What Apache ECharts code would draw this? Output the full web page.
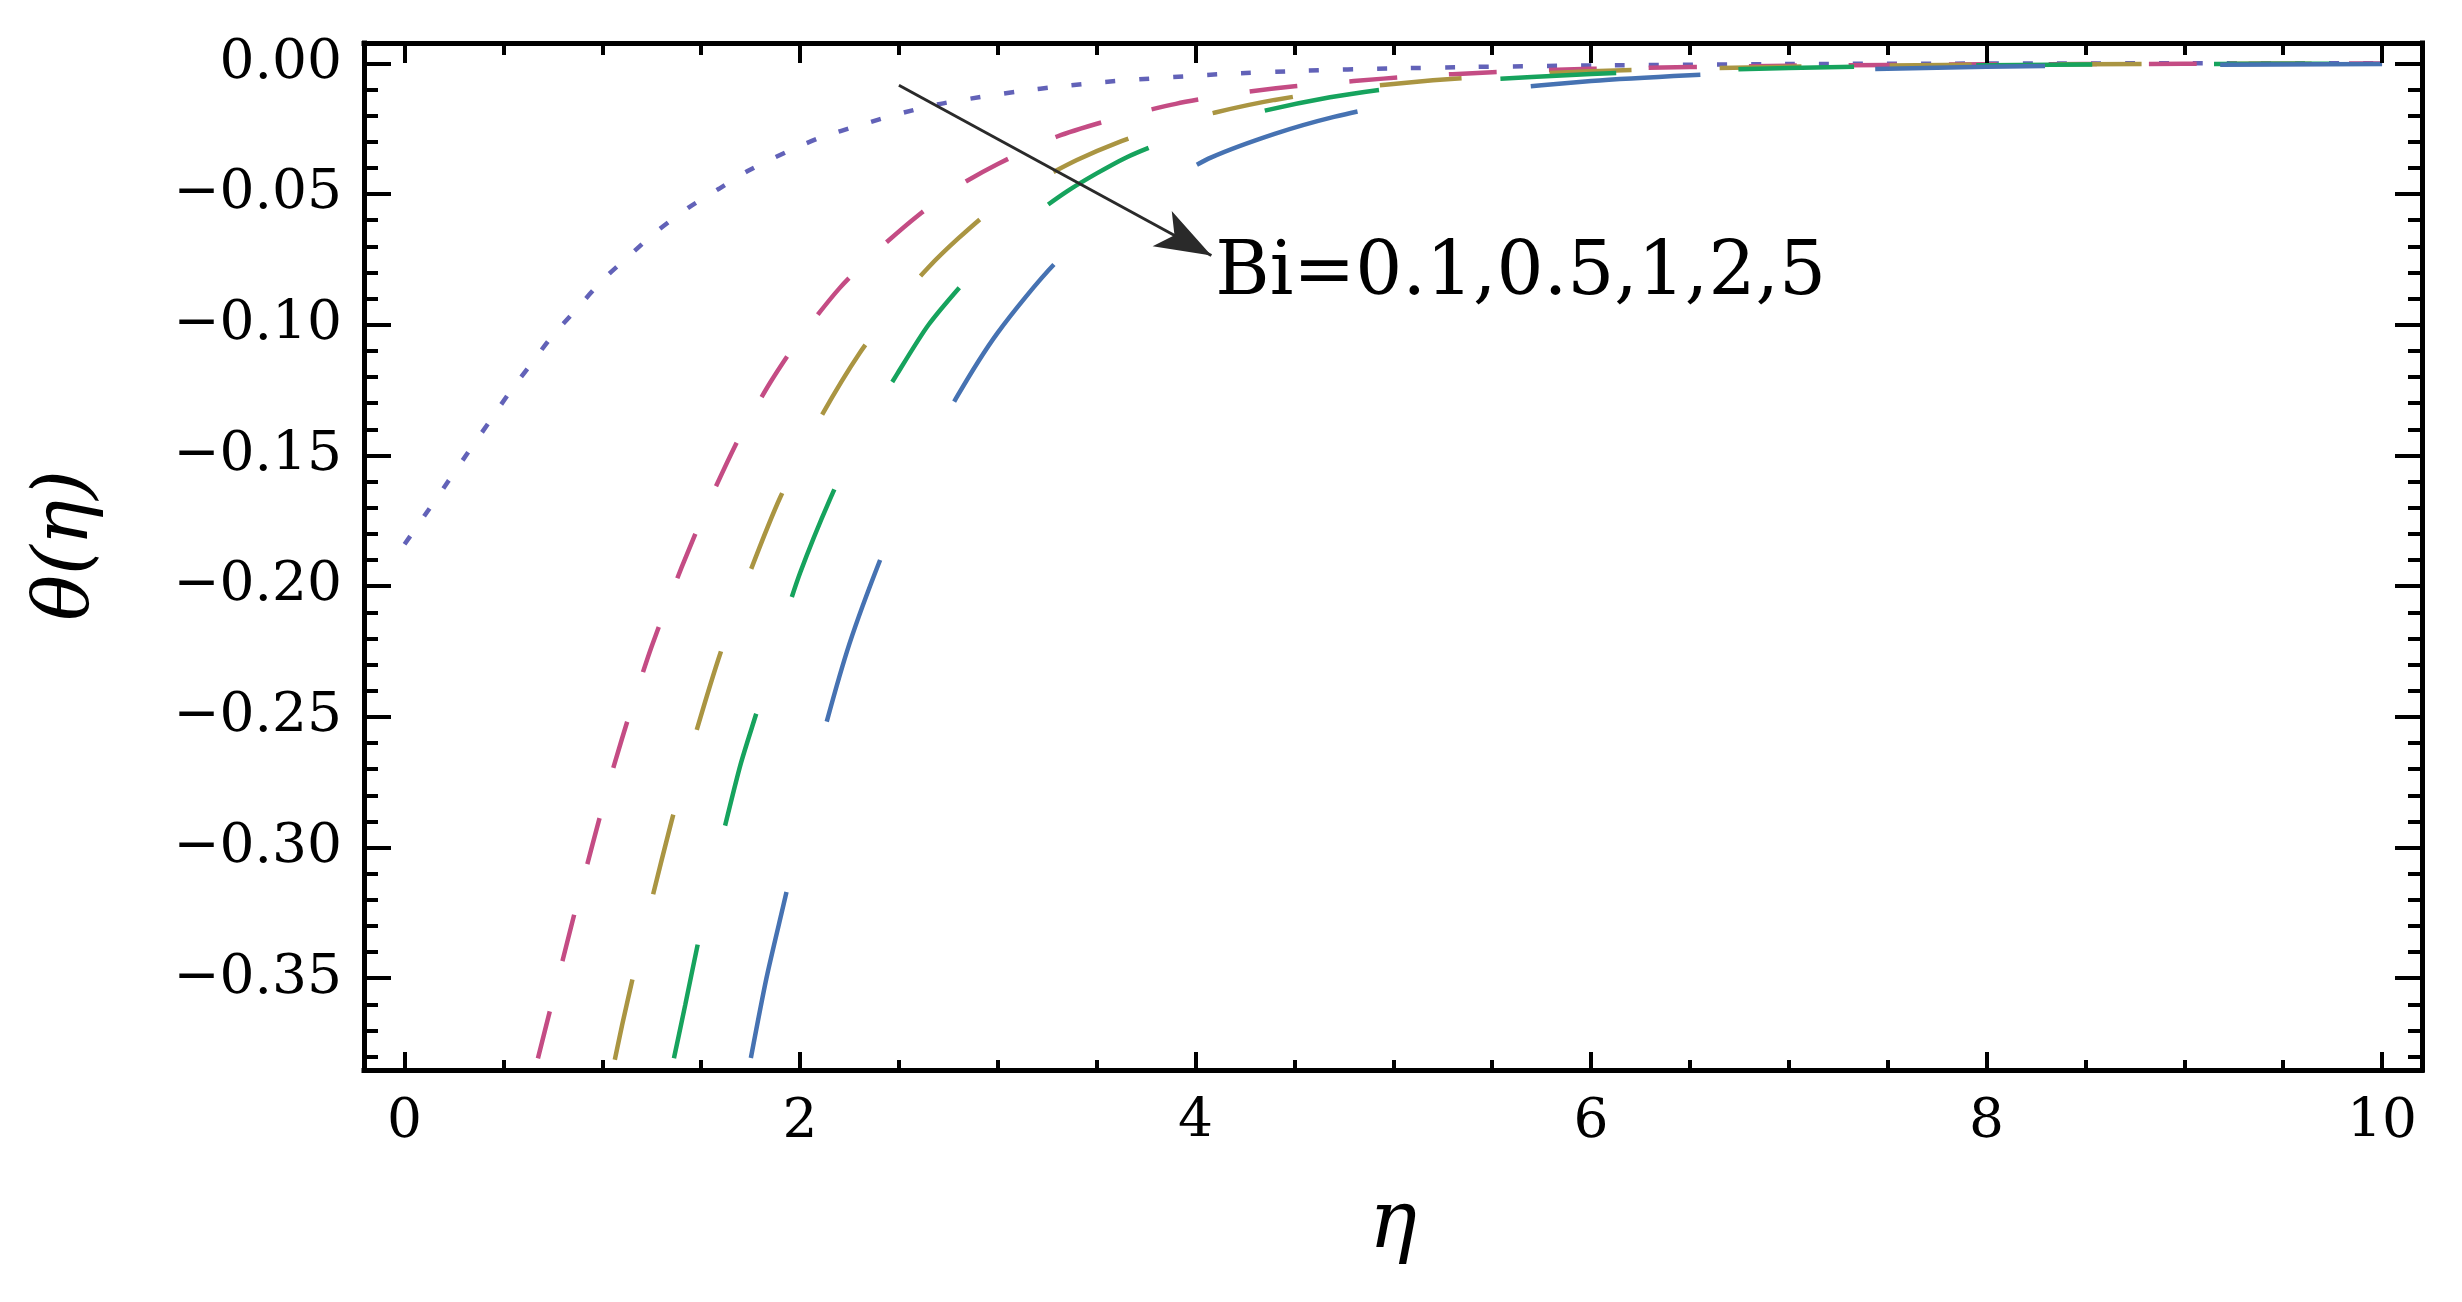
<!DOCTYPE html>
<html>
<head>
<meta charset="utf-8">
<title>theta(eta) for several Bi</title>
<script src="https://cdn.jsdelivr.net/npm/echarts@6/dist/echarts.min.js"></script>
<style>
  html, body { margin: 0; padding: 0; background: #fff; }
  #chart { width: 2462px; height: 1302px; }
</style>
</head>
<body>
<div id="chart"></div>
<script>
// values (eta, theta), one pair of arrays per Bi
const etaBi01 = [0, 0.12, 0.22, 0.32, 0.43, 0.53, 0.64, 0.74, 0.87, 1.0, 1.13, 1.28, 1.44, 1.59, 1.74, 1.93, 2.1, 2.31, 2.5, 2.71, 2.92, 3.11, 3.32, 3.53, 3.74, 3.94, 4.14, 4.56, 4.98, 5.39, 6.03, 7, 8, 9, 10];
const thetaBi01 = [-0.184, -0.171, -0.16, -0.149, -0.137, -0.126, -0.115, -0.105, -0.094, -0.083, -0.074, -0.064, -0.055, -0.048, -0.041, -0.034, -0.0285, -0.0235, -0.0193, -0.0155, -0.0128, -0.0107, -0.0088, -0.0072, -0.006, -0.005, -0.0041, -0.0028, -0.002, -0.0014, -0.0008, -0.0003, -0.0001, 0, 0];

const etaBi05 = [0.66, 0.75, 0.85, 0.95, 1.05, 1.15, 1.25, 1.4, 1.55, 1.7, 1.85, 2.0, 2.2, 2.4, 2.6, 2.8, 3.0, 3.3, 3.6, 3.9, 4.2, 4.5, 4.8, 5.1, 5.5, 6, 7, 8, 9, 10];
const thetaBi05 = [-0.385, -0.358, -0.328, -0.299, -0.271, -0.246, -0.223, -0.193, -0.166, -0.142, -0.122, -0.105, -0.086, -0.071, -0.058, -0.047, -0.0385, -0.028, -0.021, -0.0155, -0.0115, -0.0088, -0.0068, -0.005, -0.0034, -0.0021, -0.0009, -0.0004, -0.0002, -0.0001];

const etaBi1 = [1.05, 1.1, 1.16, 1.25, 1.35, 1.47, 1.6, 1.75, 1.9, 2.1, 2.3, 2.5, 2.65, 2.8, 2.97, 3.2, 3.4, 3.6, 3.87, 4.1, 4.4, 4.8, 5.2, 5.6, 6, 7, 8, 9, 10];
const thetaBi1 = [-0.386, -0.368, -0.348, -0.32, -0.29, -0.257, -0.225, -0.194, -0.166, -0.136, -0.111, -0.091, -0.078, -0.067, -0.056, -0.045, -0.037, -0.0305, -0.0235, -0.0188, -0.014, -0.0095, -0.0065, -0.0045, -0.003, -0.0013, -0.0005, -0.0002, -0.0001];

const etaBi2 = [1.35, 1.42, 1.48, 1.55, 1.61, 1.7, 1.79, 1.9, 2.0, 2.15, 2.3, 2.49, 2.65, 2.85, 3.05, 3.35, 3.65, 3.95, 4.3, 4.68, 5.0, 5.4, 6, 7, 8, 9, 10];
const thetaBi2 = [-0.385, -0.36, -0.338, -0.314, -0.295, -0.268, -0.246, -0.218, -0.195, -0.167, -0.143, -0.119, -0.1, -0.082, -0.066, -0.049, -0.036, -0.027, -0.019, -0.013, -0.0095, -0.0066, -0.0041, -0.0018, -0.0007, -0.0003, -0.0001];

const etaBi5 = [1.74, 1.83, 1.93, 2.02, 2.12, 2.25, 2.41, 2.6, 2.79, 3.0, 3.29, 3.6, 3.85, 4.08, 4.4, 4.7, 5.03, 5.5, 6, 6.5, 7, 8, 9, 10];
const thetaBi5 = [-0.385, -0.35, -0.3175, -0.287, -0.256, -0.222, -0.189, -0.155, -0.128, -0.103, -0.0765, -0.057, -0.0455, -0.036, -0.027, -0.0205, -0.0152, -0.0103, -0.0068, -0.0046, -0.003, -0.0013, -0.0006, -0.0003];

const seriesNames = ['Bi=0.1', 'Bi=0.5', 'Bi=1', 'Bi=2', 'Bi=5'];

// ticks
const xMajorTicks = [0, 2, 4, 6, 8, 10];
const xMinorTicks = [0.5, 1, 1.5, 2.5, 3, 3.5, 4.5, 5, 5.5, 6.5, 7, 7.5, 8.5, 9, 9.5];
const yMajorTicks = [0, -0.05, -0.1, -0.15, -0.2, -0.25, -0.3, -0.35];
const yMinorTicks = [-0.01, -0.02, -0.03, -0.04, -0.06, -0.07, -0.08, -0.09, -0.11, -0.12, -0.13, -0.14,
  -0.16, -0.17, -0.18, -0.19, -0.21, -0.22, -0.23, -0.24, -0.26, -0.27, -0.28, -0.29,
  -0.31, -0.32, -0.33, -0.34, -0.36, -0.37, -0.38];

const annotationText = 'Bi=0.1,0.5,1,2,5';

const X_MIN = -0.205, X_MAX = 10.202;
const Y_MIN = -0.3851, Y_MAX = 0.00777;

const pairs = (xs, ys) => xs.map((x, i) => [x, ys[i]]);

const LABEL_FONT = 'DejaVu Serif';
const black = '#000';

function frameAxis(pos, isX, opts) {
  const ax = {
    type: 'value',
    position: pos,
    min: isX ? X_MIN : Y_MIN,
    max: isX ? X_MAX : Y_MAX,
    splitLine: { show: false },
    axisLine: { show: opts.line, onZero: false, lineStyle: { color: black, width: 5, cap: 'square' } },
    axisTick: {
      show: true,
      inside: true,
      length: opts.tickLen,
      customValues: opts.ticks,
      lineStyle: { color: black, width: 4 }
    },
    axisLabel: { show: false },
    z: 10
  };
  if (opts.labels) {
    ax.axisLabel = {
      show: true,
      customValues: opts.ticks,
      margin: opts.margin,
      color: black,
      fontFamily: LABEL_FONT,
      fontSize: 55,
      formatter: opts.formatter
    };
  }
  return ax;
}

const fmtY = v => (v < 0 ? '\u2212' : '') + Math.abs(v).toFixed(2);
const fmtX = v => String(Math.round(v));

const chart = echarts.init(document.getElementById('chart'), null, { renderer: 'canvas' });

const xAxes = [
  Object.assign(frameAxis('bottom', true, { line: true, ticks: xMajorTicks, tickLen: 18, labels: true, margin: 25, formatter: fmtX }), {
    name: '\u03b7',
    nameLocation: 'middle',
    nameGap: 116,
    nameTextStyle: { fontFamily: LABEL_FONT, fontStyle: 'italic', fontSize: 80, color: black }
  }),
  frameAxis('top', true, { line: true, ticks: xMajorTicks, tickLen: 20 }),
  frameAxis('bottom', true, { line: false, ticks: xMinorTicks, tickLen: 10 }),
  frameAxis('top', true, { line: false, ticks: xMinorTicks, tickLen: 12 })
];

const yAxes = [
  Object.assign(frameAxis('left', false, { line: true, ticks: yMajorTicks, tickLen: 27, labels: true, margin: 22, formatter: fmtY }), {
    name: '\u03b8(\u03b7)',
    nameLocation: 'middle',
    nameGap: 259,
    nameRotate: 90,
    nameTextStyle: { fontFamily: LABEL_FONT, fontStyle: 'italic', fontSize: 76, color: black, padding: [0, 0, 0, 22] }
  }),
  frameAxis('right', false, { line: true, ticks: yMajorTicks, tickLen: 27 }),
  frameAxis('left', false, { line: false, ticks: yMinorTicks, tickLen: 14 }),
  frameAxis('right', false, { line: false, ticks: yMinorTicks, tickLen: 14 })
];

const styles = [
  { color: '#6262b8', type: [10, 24], offset: 0 },
  { color: '#c44c84', type: [48, 52], offset: 88 },
  { color: '#aa9542', type: [82, 88], offset: 157 },
  { color: '#16a35d', type: [116, 122], offset: 226 },
  { color: '#4672b2', type: [170, 175], offset: 333 }
];
const curves = [
  pairs(etaBi01, thetaBi01),
  pairs(etaBi05, thetaBi05),
  pairs(etaBi1, thetaBi1),
  pairs(etaBi2, thetaBi2),
  pairs(etaBi5, thetaBi5)
];

const series = curves.map((data, i) => ({
  name: seriesNames[i],
  type: 'line',
  xAxisIndex: 0,
  yAxisIndex: 0,
  data: data,
  showSymbol: false,
  symbol: 'none',
  smooth: 0.25,
  clip: true,
  silent: true,
  lineStyle: {
    color: styles[i].color,
    width: 4.5,
    type: styles[i].type,
    dashOffset: styles[i].offset,
    cap: 'butt'
  },
  z: 2
}));

// arrow and text "Bi=..."
series[0].markLine = {
  silent: true,
  symbol: ['none', 'arrow'],
  label: { show: false },
  lineStyle: { color: '#2a2a2a', width: 3, type: 'solid' },
  emphasis: { disabled: true },
  data: [[
    { coord: [2.5, -0.0084], symbol: 'none' },
    { coord: [4.08, -0.0735], symbol: 'arrow', symbolSize: [30, 56], itemStyle: { color: '#000' } }
  ]]
};
series[0].markPoint = {
  silent: true,
  symbol: 'circle',
  symbolSize: 0,
  label: {
    show: true,
    position: 'right',
    distance: 0,
    formatter: annotationText,
    color: black,
    fontFamily: LABEL_FONT,
    fontSize: 74
  },
  data: [{ coord: [4.1, -0.081] }]
};

chart.setOption({
  animation: false,
  backgroundColor: '#fff',
  grid: { left: 364, top: 43, width: 2058, height: 1027, containLabel: false },
  xAxis: xAxes,
  yAxis: yAxes,
  series: series
});
</script>
</body>
</html>
